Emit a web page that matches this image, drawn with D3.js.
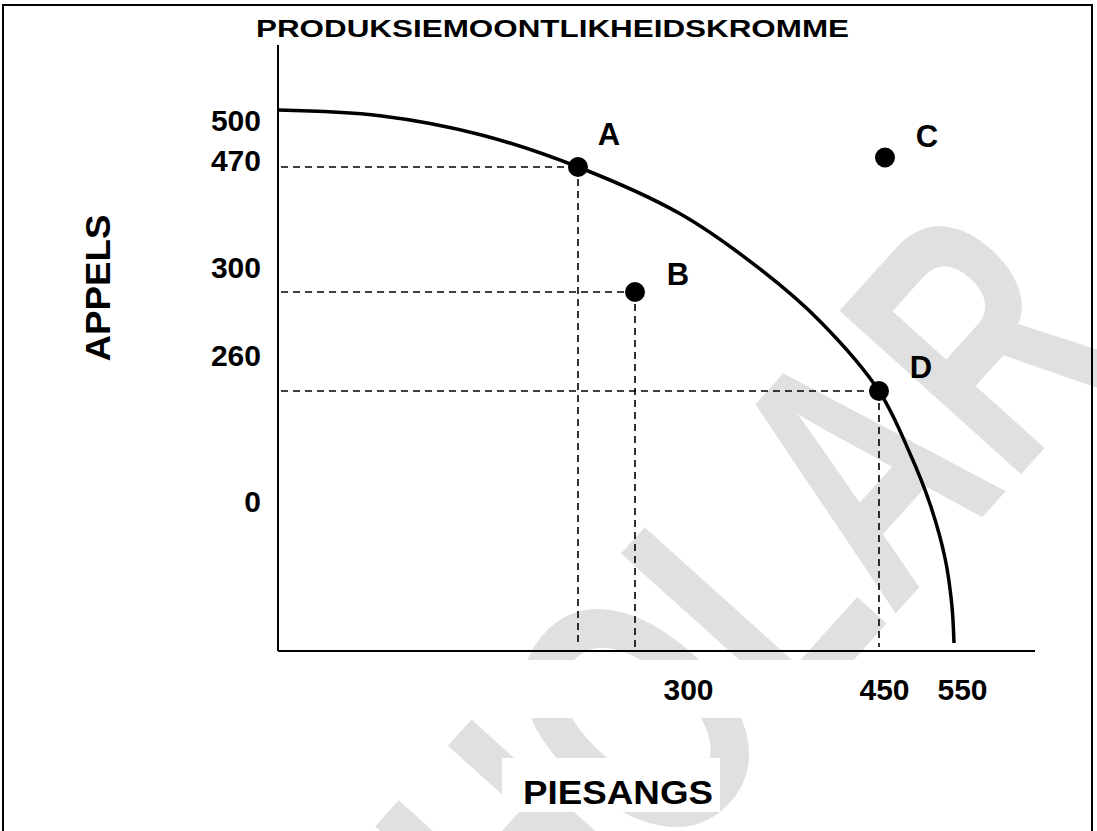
<!DOCTYPE html>
<html>
<head>
<meta charset="utf-8">
<script src="https://cdn.jsdelivr.net/npm/d3@7"></script>
<style>
  body { margin: 0; background: #fff; }
  svg text { font-family: "Liberation Sans", Arial, sans-serif; font-weight: bold; fill: #000; }
</style>
</head>
<body>
<script>
// values
var xTicks = [300, 450, 550];
var yTicks = [500, 470, 300, 260, 0];

var pointNames = ["A", "B", "C", "D"];
var pointX = [200, 300, 458, 450];
var pointY = [470, 300, 475, 260];
var guided = ["A", "B", "D"];

// production possibility curve (piesangs, appels)
var curveX = [0, 68, 135, 200, 328, 377, 414, 450, 491, 518, 538, 547, 550];
var curveY = [500, 497, 487, 470, 406, 331, 288, 260, 198, 147, 93, 47, 8];

var W = 1097, H = 831;

var svg = d3.select("body").append("svg")
  .attr("width", W)
  .attr("height", H);

// the drawing is not to scale, so both scales are piecewise
var x = d3.scaleLinear()
  .domain([0, 200, 300, 450, 550])
  .range([278, 578, 635, 879, 954]);
var y = d3.scaleLinear()
  .domain([0, 260, 300, 470, 500])
  .range([651, 391, 292, 167, 110]);

// where the printed tick labels sit
var xLab = d3.scaleLinear().domain([300, 450, 550]).range([688, 884, 962]);
var yLab = d3.scaleLinear().domain([0, 260, 300, 470, 500]).range([502, 356, 268, 161, 121]);

// watermark
svg.append("text")
  .attr("transform", "translate(318,1255) rotate(-48) scale(0.69,1)")
  .style("font-size", "355px")
  .style("fill", "#e0e0e0")
  .text("SCHOLAR");

// white boxes behind labels
svg.append("rect").attr("x", 285).attr("y", 660).attr("width", 755).attr("height", 58).attr("fill", "#fff");
svg.append("rect").attr("x", 502).attr("y", 758).attr("width", 218).attr("height", 54).attr("fill", "#fff");

// frame
svg.append("path")
  .attr("d", "M3,831 V5 H1092 V831")
  .attr("fill", "none")
  .attr("stroke", "#000")
  .attr("stroke-width", 2);

// title
svg.append("text")
  .attr("x", 256).attr("y", 37)
  .attr("textLength", 593)
  .attr("lengthAdjust", "spacingAndGlyphs")
  .style("font-size", "24px")
  .text("PRODUKSIEMOONTLIKHEIDSKROMME");

// axis lines
svg.append("line")
  .attr("x1", x(0)).attr("x2", x(0))
  .attr("y1", 45).attr("y2", y(0))
  .attr("stroke", "#000").attr("stroke-width", 2);
svg.append("line")
  .attr("x1", x(0)).attr("x2", 1035)
  .attr("y1", y(0)).attr("y2", y(0))
  .attr("stroke", "#000").attr("stroke-width", 2);

// tick labels
var yAxis = svg.append("g")
  .attr("transform", "translate(261,0)")
  .call(d3.axisLeft(yLab).tickValues(yTicks).tickSize(0).tickPadding(0).tickFormat(d3.format("d")));
var xAxis = svg.append("g")
  .attr("transform", "translate(0,679)")
  .call(d3.axisBottom(xLab).tickValues(xTicks).tickSize(0).tickPadding(0).tickFormat(d3.format("d")));
[yAxis, xAxis].forEach(function(g) {
  g.select(".domain").remove();
  g.selectAll("text")
    .style("font-size", "30px")
    .style("font-family", "'Liberation Sans', Arial, sans-serif")
    .style("font-weight", "bold")
    .attr("fill", "#000");
});

// axis titles
svg.append("text")
  .attr("transform", "translate(110,288) rotate(-90)")
  .attr("text-anchor", "middle")
  .attr("textLength", 147)
  .attr("lengthAdjust", "spacingAndGlyphs")
  .style("font-size", "35px")
  .text("APPELS");
svg.append("text")
  .attr("x", 523).attr("y", 804)
  .attr("textLength", 190)
  .attr("lengthAdjust", "spacingAndGlyphs")
  .style("font-size", "34px")
  .text("PIESANGS");

var points = pointNames.map(function(n, i) {
  return { name: n, x: pointX[i], y: pointY[i] };
});

// dashed guides
var guides = svg.append("g")
  .attr("stroke", "#000")
  .attr("stroke-width", 1.6)
  .attr("stroke-dasharray", "7,5");
points.filter(function(d) { return guided.indexOf(d.name) >= 0; }).forEach(function(d) {
  guides.append("line")
    .attr("x1", x(0) + 3).attr("x2", x(d.x))
    .attr("y1", y(d.y)).attr("y2", y(d.y));
  guides.append("line")
    .attr("x1", x(d.x)).attr("x2", x(d.x))
    .attr("y1", y(d.y)).attr("y2", y(0) - 4);
});

// curve
var line = d3.line()
  .x(function(d) { return x(d[0]); })
  .y(function(d) { return y(d[1]); })
  .curve(d3.curveCatmullRom);
svg.append("path")
  .datum(d3.zip(curveX, curveY))
  .attr("d", line)
  .attr("fill", "none")
  .attr("stroke", "#000")
  .attr("stroke-width", 3.5);

// points and their letters
var labelOffset = { A: [31, -22], B: [43, -7], C: [42, -11], D: [42, -13] };
svg.selectAll("circle.pt")
  .data(points)
  .enter().append("circle")
  .attr("class", "pt")
  .attr("cx", function(d) { return x(d.x); })
  .attr("cy", function(d) { return y(d.y); })
  .attr("r", 10)
  .attr("fill", "#000");
svg.selectAll("text.pt")
  .data(points)
  .enter().append("text")
  .attr("class", "pt")
  .attr("x", function(d) { return x(d.x) + labelOffset[d.name][0]; })
  .attr("y", function(d) { return y(d.y) + labelOffset[d.name][1]; })
  .attr("text-anchor", "middle")
  .style("font-size", "31px")
  .text(function(d) { return d.name; });
</script>
</body>
</html>
